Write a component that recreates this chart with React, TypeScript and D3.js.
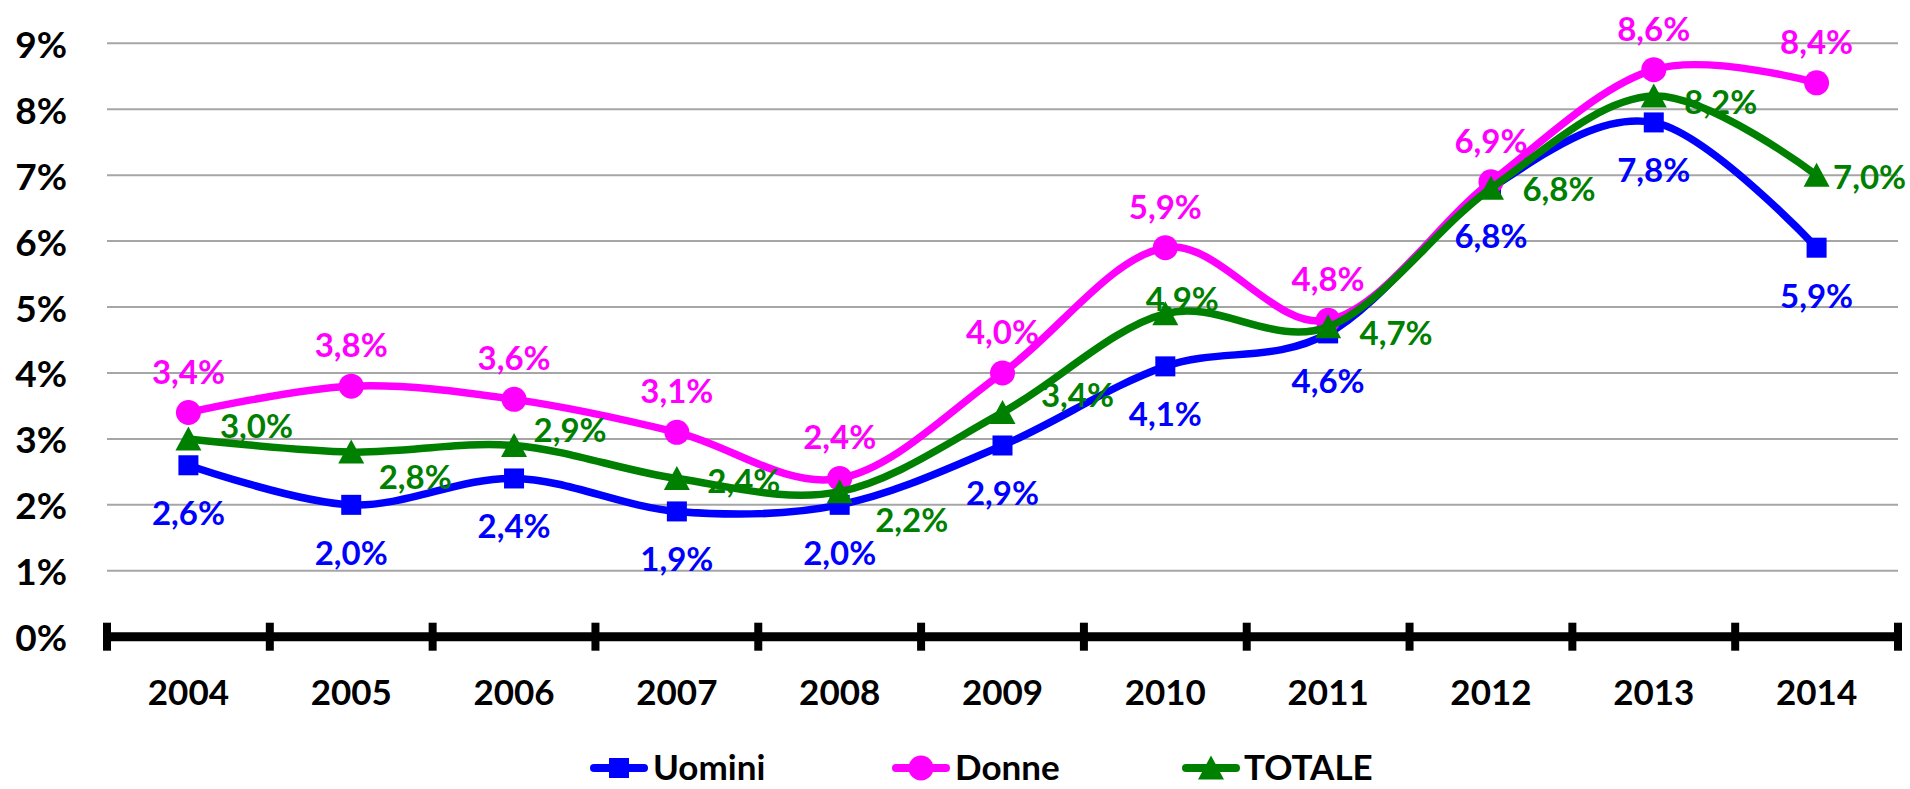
import React from 'react';
import * as d3 from 'd3';

// dati
const years = ['2004', '2005', '2006', '2007', '2008', '2009', '2010', '2011', '2012', '2013', '2014'];
const uomini = [2.6, 2.0, 2.4, 1.9, 2.0, 2.9, 4.1, 4.6, 6.8, 7.8, 5.9];
const donne = [3.4, 3.8, 3.6, 3.1, 2.4, 4.0, 5.9, 4.8, 6.9, 8.6, 8.4];
const totale = [3.0, 2.8, 2.9, 2.4, 2.2, 3.4, 4.9, 4.7, 6.8, 8.2, 7.0];
const yTicks = [0, 1, 2, 3, 4, 5, 6, 7, 8, 9];

// spostamenti delle etichette TOTALE (posizionate a mano nell'originale)
const totaleLabelNudge: [number, number][] = [
    [68, -14], [64, 24], [56, -16], [67, 2], [72, 27], [75, -19],
    [17, -16], [68, 5], [68, 0], [67, 5], [53, 1],
];

const width = 1910;
const height = 789;
const font = 'Lato, "Open Sans", sans-serif';

const x = d3.scaleBand<string>().domain(years).range([107, 1898]).padding(0);
const y = d3.scaleLinear().domain([0, 9]).range([636.7, 43.3]);
const cx = (i: number) => (x(years[i]) as number) + x.bandwidth() / 2;

const fmt = (v: number) => v.toFixed(1).replace('.', ',') + '%';

const line = d3.line<number>()
    .x((_, i) => cx(i))
    .y(d => y(d))
    .curve(d3.curveCardinal.tension(0));

const series = [
    { name: 'Uomini', values: uomini, color: '#0000FF', marker: 'square' },
    { name: 'Donne', values: donne, color: '#FF00FF', marker: 'circle' },
    { name: 'TOTALE', values: totale, color: '#008000', marker: 'triangle' },
];

const Marker = ({ type, px, py, color }: { type: string; px: number; py: number; color: string }) => {
    if (type === 'square') return <rect x={px - 10} y={py - 10} width={20} height={20} fill={color} />;
    if (type === 'circle') return <circle cx={px} cy={py} r={12.5} fill={color} />;
    return <path d={`M${px},${py - 12.5} L${px + 13},${py + 11.5} L${px - 13},${py + 11.5} Z`} fill={color} />;
};

const labelPos = (name: string, i: number, v: number): [number, number] => {
    if (name === 'Uomini') return [cx(i), y(v) + 47];
    if (name === 'Donne') return [cx(i), y(v) - 42];
    const [dx, dy] = totaleLabelNudge[i];
    return [cx(i) + dx, y(v) + dy];
};

const legendItems = [
    { lineX: 590, textX: 653 },
    { lineX: 892, textX: 955 },
    { lineX: 1182, textX: 1244 },
];

export default function App() {
    const bounds = [...years.map(yr => x(yr) as number), x.range()[1]];
    return (
        <div style={{ position: 'absolute', left: 0, top: 0, width, height, background: '#fff' }}>
            <svg width={width} height={height} style={{ display: 'block' }}>
                {/* griglia */}
                {yTicks.filter(t => t > 0).map(t => (
                    <line key={t} x1={107} x2={1898} y1={y(t)} y2={y(t)} stroke="#A6A6A6" strokeWidth={2} />
                ))}
                {/* etichette asse y */}
                {yTicks.map(t => (
                    <text key={t} x={67} y={y(t)} textAnchor="end" dominantBaseline="central"
                        fontFamily={font} fontWeight="bold" fontSize={37} fill="#000">{t + '%'}</text>
                ))}
                {/* asse x */}
                <line x1={103} x2={1902} y1={y(0)} y2={y(0)} stroke="#000" strokeWidth={9} />
                {bounds.map((b, i) => (
                    <line key={i} x1={b} x2={b} y1={y(0) - 14} y2={y(0) + 14} stroke="#000" strokeWidth={8} />
                ))}
                {years.map(yr => (
                    <text key={yr} x={(x(yr) as number) + x.bandwidth() / 2} y={705} textAnchor="middle"
                        fontFamily={font} fontWeight="bold" fontSize={35} fill="#000">{yr}</text>
                ))}
                {/* serie */}
                {series.map(s => (
                    <g key={s.name}>
                        <path d={line(s.values) || ''} fill="none" stroke={s.color} strokeWidth={7.5} strokeLinejoin="round" />
                        {s.values.map((v, i) => (
                            <Marker key={i} type={s.marker} px={cx(i)} py={y(v)} color={s.color} />
                        ))}
                    </g>
                ))}
                {series.map(s => (
                    <g key={s.name + '-lbl'}>
                        {s.values.map((v, i) => {
                            const [lx, ly] = labelPos(s.name, i, v);
                            return (
                                <text key={i} x={lx} y={ly} textAnchor="middle" dominantBaseline="central"
                                    fontFamily={font} fontWeight="bold" fontSize={33} fill={s.color}>{fmt(v)}</text>
                            );
                        })}
                    </g>
                ))}
                {/* legenda */}
                {series.map((s, k) => {
                    const it = legendItems[k];
                    const ly = 768;
                    return (
                        <g key={s.name + '-leg'}>
                            <line x1={it.lineX + 4} x2={it.lineX + 54} y1={ly} y2={ly} stroke={s.color} strokeWidth={8} strokeLinecap="round" />
                            <Marker type={s.marker} px={it.lineX + 29} py={ly} color={s.color} />
                            <text x={it.textX} y={780} fontFamily={font}
                                fontWeight="bold" fontSize={35} fill="#000">{s.name}</text>
                        </g>
                    );
                })}
            </svg>
        </div>
    );
}
